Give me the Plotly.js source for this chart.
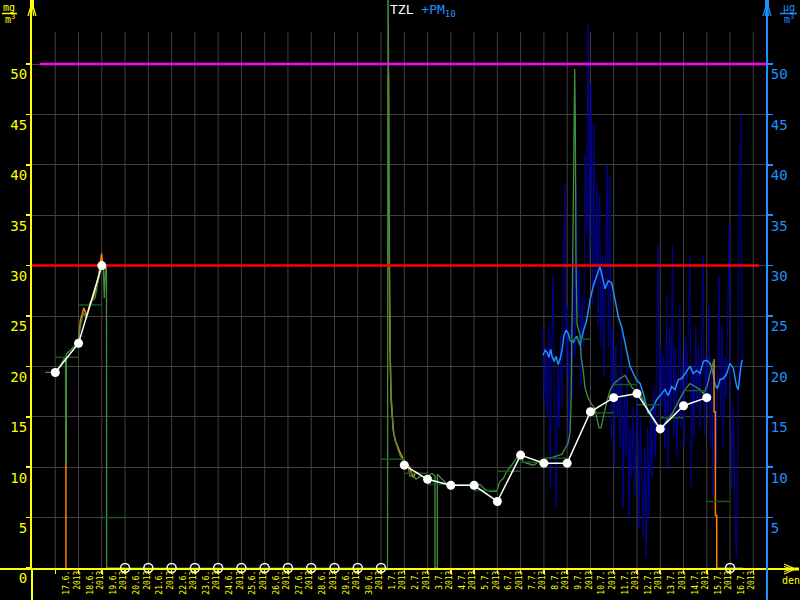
<!DOCTYPE html>
<html><head><meta charset="utf-8">
<script src="https://cdn.plot.ly/plotly-3.0.1.min.js"></script>
<style>html,body{margin:0;padding:0;background:#000;}#chart{width:800px;height:600px;}</style>
</head><body><div id="chart"></div>
<script>
// ---- DATA (time in hours since 17.6.2013 00:00) ----
const dayLabels = ['17.6.','18.6.','19.6.','20.6.','21.6.','22.6.','23.6.','24.6.','25.6.','26.6.','27.6.','28.6.','29.6.','30.6.',
  '1.7.','2.7.','3.7.','4.7.','5.7.','6.7.','7.7.','8.7.','9.7.','10.7.','11.7.','12.7.','13.7.','14.7.','15.7.','16.7.'];
const yearLabel = '2013';

// daily TZL average (white), null = missing day
const tzlDaily = [19.4, 22.3, 30.0, null, null, null, null, null, null, null, null, null, null, null, null,
  10.2, 8.8, 8.2, 8.2, 6.6, 11.2, 10.4, 10.4, 15.5, 16.9, 17.3, 13.8, 16.1, 16.9, null];

// daily mean of raw TZL (dark green steps)
const tzlDayMean = [20.9, 26.1, 5.0, 0, 0, 0, 0, 0, 0, 0, 0, 0, 0, 0,
  10.8, 9.4, 8.3, 8.2, 7.7, 9.6, 10.5, 10.9, 22.7, 15.4, 18.2, 16.2, 14.9, 17.6, 6.6, null];

// raw TZL (green)
const tzlRawHours = [-10.6,0.4,4.9,10.6,10.8,11.2,11.4,17.3,23.8,25.5,28.9,32.4,35.8,41.0,44.4,47.4,49.5,50.6,51.8,52.8,53.0,71.9,null,
  336.0,342.7,343.2,343.9,345.0,346.0,347.3,348.4,350.4,352.5,355.6,358.7,360.8,363.9,365.9,369.0,372.1,376.2,382.4,388.6,391.7,391.7,394.1,394.1,
  402.0,407.2,417.5,427.8,438.1,443.3,448.5,455.3,458.7,462.2,465.6,470.8,476.0,479.4,482.8,493.1,503.4,513.4,522.7,525.8,528.9,531.0,532.0,533.1,
  534.1,535.1,535.8,536.4,537.1,538.2,539.2,541.3,542.3,544.4,546.4,549.5,553.6,556.7,558.8,560.9,562.9,565.0,568.1,572.2,576.3,582.5,587.7,590.8,
  594.9,603.2,608.3,613.5,618.6,623.8,626.9,631.0,636.2,641.3,645.4,649.6,654.7,659.9,665.1,668.2,672.3,675.4,679.5,null,682.6,709.4];
const tzlRawValues = [19.4,19.4,20.0,21.0,10.5,10.5,21.2,21.8,22.4,23.8,25.3,24.8,26.3,26.8,28.4,30.0,30.1,26.8,30.0,30.0,0,0,null,
  0,0,60,44.2,26.1,18.2,15.0,13.8,12.7,12.1,11.2,10.7,10.3,10.0,9.1,9.2,8.8,9.1,9.0,9.4,9.1,0,0,9.3,
  8.5,8.3,8.2,8.2,8.3,7.8,7.6,7.6,8.6,8.9,9.6,10.2,10.9,11.4,10.5,10.2,10.8,11.0,11.3,11.8,12.4,13.4,16.2,24.9,
  37.0,44.3,49.5,44.6,30.4,24.2,23.8,23.1,21.0,19.7,17.9,16.9,16.2,15.8,14.8,13.9,13.9,14.8,16.2,17.6,18.3,18.8,19.1,18.6,
  17.9,17.3,16.2,15.2,14.4,13.9,14.0,14.7,15.3,16.3,17.0,17.7,18.3,18.0,17.7,17.3,18.0,19.3,20.7,null,0,0];

// second raw TZL channel (orange)
const tzlAltHours = [11.0,11.0,null,23.8,26.0,29.5,32.4,35.8,41.0,44.4,47.8,49.0,null,
  343.7,343.8,345.2,346.5,348.0,349.0,351.0,355.0,360.0,365.5,369.0,372.0,376.0,null,
  679.5,679.5,680.9,680.9,682.3,682.3];
const tzlAltValues = [21.0,0,null,22.4,24.6,25.8,25.0,26.0,27.4,28.8,31.2,30.0,null,
  49.0,39.4,22.0,16.5,14.6,13.4,12.6,11.6,10.6,10.0,9.0,9.5,9.3,null,
  20.7,15.5,15.5,5.2,5.2,0];

// PM10 hourly (light blue)
const pm10Hours = [503.1,505.2,507.2,509.3,510.9,512.4,514.5,516.6,518.6,520.7,522.8,524.8,526.9,529.0,531.0,534.4,537.9,541.3,544.7,548.2,
  551.6,555.0,558.5,561.9,564.5,567.1,570.4,573.9,577.4,580.8,584.3,587.7,591.1,592.8,596.3,599.8,603.2,606.6,611.7,616.6,
  620.4,625.5,628.9,632.3,635.8,639.2,642.7,646.2,649.6,653.0,654.7,658.1,661.6,665.1,668.5,672.0,675.4,678.2,680.5,682.9,
  685.7,689.1,692.6,696.0,699.4,702.9,704.5,706.3,708.0,709.1];
const pm10Values = [21.1,21.6,21.4,20.9,21.7,21.0,20.5,21.0,20.2,20.7,21.7,23.1,23.6,23.3,22.6,22.4,23.0,22.1,23.5,24.6,
  26.6,28.0,29.0,29.9,28.8,27.7,28.5,28.3,26.6,24.9,23.9,22.4,21.0,20.0,19.3,18.6,18.3,17.3,15.3,15.9,
  16.7,17.3,17.7,17.1,18.0,17.7,18.7,18.8,19.3,19.8,20.0,19.3,19.6,19.3,20.5,20.6,20.3,19.5,18.2,17.8,
  18.7,18.8,19.3,20.3,19.8,18.0,17.7,19.3,20.5,20.6];

// PM10 raw samples (dark blue), regular sampling
const pm10RawStart = 503.1;
const pm10RawStep = 1.5;
const pm10RawValues = [24,16,22,15,24,8,22,29,13,6, 20,14,23,16,30,38,19,26,12,24, 17,31,21,38,25,30,18,27,22,41,
  33,54,30,48,26,44,28,38,24,37, 22,31,19,28,40,22,39,13,24,10, 22,15,19,12,24,6,17,11,20,5,
  14,9,16,7,13,18,4,15,9,3, 12,1,14,5,16,9,18,11,20,32, 14,22,16,21,12,27,10,24,15,32,
  13,22,11,19,26,14,21,12,23,18, 26,31,8,20,13,24,16,22,14,25, 31,13,21,16,26,12,20,7,17,10,
  22,29,15,24,12,21,17,27,34,18, 8,16,5,1,12,37,45,20];

// limits
const tzlLimit = 30;
const pm10Limit = 50;
const leftTicks = [0,5,10,15,20,25,30,35,40,45,50];
const rightTicks = [5,10,15,20,25,30,35,40,45,50];

// ---- GEOMETRY / STYLE ----
const W = 800, H = 600, L = 32, R = 34, T = 0, B = 32;
const plotW = W - L - R, plotH = H - T - B;
const xRange = [-24, 733.1];
const yRange = [0, 56.35];
const gridTop = 53.17;
const tzlLimitSpan = [-24, 726];
const pm10LimitSpan = [-16, 733.1];
const YEL = '#ffff00', BLUE = '#1e90ff', GRID = '#404040';
const FONT = 'DejaVu Sans Mono, monospace';
const px = v => (v - L) / plotW;
const py = v => (H - B - v) / plotH;

// ---- TRACES ----
const dayX = dayLabels.map((_, i) => i * 24);
const rawX = pm10RawValues.map((_, i) => pm10RawStart + i * pm10RawStep);

const stepX = [], stepY = [];
tzlDayMean.forEach((v, i) => { if (v !== null) { stepX.push(i * 24, i * 24 + 24, null); stepY.push(v, v, null); } });

const missX = [], missY = [];
tzlDaily.forEach((v, i) => { if (v === null) { missX.push(i * 24); missY.push(0); } });

const traces = [
  {x: rawX, y: pm10RawValues, mode: 'lines', line: {color: '#00009a', width: 1}, hoverinfo: 'skip'},
  {x: pm10Hours, y: pm10Values, mode: 'lines', line: {color: BLUE, width: 1.5}, hoverinfo: 'skip'},
  {x: tzlAltHours, y: tzlAltValues, mode: 'lines', line: {color: '#ff8000', width: 1.5}, connectgaps: false, hoverinfo: 'skip'},
  {x: tzlRawHours, y: tzlRawValues, mode: 'lines', line: {color: '#3f8f3f', width: 1.3}, connectgaps: false, hoverinfo: 'skip'},
  {x: stepX, y: stepY, mode: 'lines', line: {color: '#145a14', width: 1.5}, connectgaps: false, hoverinfo: 'skip'},
  {x: tzlLimitSpan, y: [tzlLimit, tzlLimit], mode: 'lines', line: {color: '#ff0000', width: 2.5}, hoverinfo: 'skip'},
  {x: pm10LimitSpan, y: [pm10Limit, pm10Limit], mode: 'lines', line: {color: '#ff00ff', width: 2.5}, hoverinfo: 'skip'},
  {x: dayX, y: tzlDaily, mode: 'lines+markers', connectgaps: false, line: {color: '#ffffff', width: 1.5},
   marker: {color: '#ffffff', size: 9}, hoverinfo: 'skip'},
  {x: missX, y: missY, mode: 'markers', cliponaxis: false,
   marker: {symbol: 'circle-open', color: '#ffffff', size: 9, line: {width: 1.5}}, hoverinfo: 'skip'},
  {x: [], y: [], xaxis: 'x2', hoverinfo: 'skip'},
  {x: [], y: [], yaxis: 'y2', hoverinfo: 'skip'}
];

// ---- SHAPES ----
const shapes = [];
for (let k = 0; k <= dayLabels.length; k++) {
  shapes.push({type: 'line', xref: 'x', yref: 'y', x0: k * 24, x1: k * 24, y0: 0, y1: gridTop,
    line: {color: GRID, width: 1}, layer: 'below'});
}
function seg(x0, y0, x1, y1, color, w) {
  shapes.push({type: 'line', xref: 'paper', yref: 'paper', x0: px(x0), y0: py(y0), x1: px(x1), y1: py(y1),
    line: {color: color, width: w}});
}
// axis extensions
seg(32, 568, 32, 600, YEL, 2);
seg(0, 569, 32, 569, YEL, 2);
seg(766, 569, 798, 569, YEL, 2);
seg(767, 568, 767, 600, BLUE, 2);
// arrows
function arrowUp(x, c) {
  seg(x, 0, x, 9, c, 4);
  seg(x - 1, 6, x - 4, 16, c, 1.2); seg(x - 0.5, 8, x - 1.7, 16, c, 1.2);
  seg(x + 1, 6, x + 4, 16, c, 1.2); seg(x + 0.5, 8, x + 1.7, 16, c, 1.2);
}
arrowUp(32, YEL);
arrowUp(767, BLUE);
seg(790, 569, 799, 569, YEL, 3);
seg(793, 568, 784, 564, YEL, 1.2); seg(791, 568.5, 784, 566.5, YEL, 1.2);
seg(793, 570, 784, 574, YEL, 1.2); seg(791, 569.5, 784, 571.5, YEL, 1.2);
// unit fraction bars
seg(2, 13.5, 17, 13.5, YEL, 1.5);
seg(780, 13.5, 797, 13.5, BLUE, 1.5);

// ---- ANNOTATIONS ----
function note(text, x, y, color, size, xanchor) {
  return {text: text, xref: 'paper', yref: 'paper', x: px(x), y: py(y), xanchor: xanchor || 'center', yanchor: 'middle',
    showarrow: false, font: {family: FONT, size: size, color: color}};
}
const annotations = [
  {text: '<span style="color:#ffffff">TZL</span> <span style="color:' + BLUE + '">+PM<sub>10</sub></span>',
   xref: 'paper', yref: 'paper', x: px(388), y: 1, xanchor: 'left', yanchor: 'top', showarrow: false,
   font: {family: FONT, size: 13, color: '#ffffff'}},
  note('mg', 9, 8, YEL, 10),
  note('m<sup>3</sup>', 10, 19, YEL, 10),
  note('µg', 789, 8, BLUE, 10),
  note('m<sup>3</sup>', 789, 19, BLUE, 10),
  note('den', 791, 580, YEL, 10)
];

const layout = {
  width: W, height: H,
  margin: {l: L, r: R, t: T, b: B, pad: 0},
  paper_bgcolor: '#000000', plot_bgcolor: '#000000',
  showlegend: false,
  xaxis: {range: xRange, tickvals: dayLabels.map((_, i) => i * 24).concat([dayLabels.length * 24]),
    showticklabels: false, ticks: 'outside', ticklen: 4, tickwidth: 1.5, tickcolor: YEL,
    showline: true, linecolor: YEL, linewidth: 2, showgrid: false, zeroline: false, layer: 'below traces', fixedrange: true},
  xaxis2: {overlaying: 'x', anchor: 'y', side: 'bottom', range: xRange,
    tickvals: dayLabels.map((_, i) => i * 24 + 12),
    ticktext: dayLabels.map(d => d + '<br>' + yearLabel),
    tickangle: -90, ticklabelshift: 5, tickfont: {family: FONT, size: 8, color: YEL}, ticks: '',
    showline: false, showgrid: false, zeroline: false, fixedrange: true},
  yaxis: {range: yRange, tickvals: leftTicks, tickfont: {family: FONT, size: 14, color: YEL},
    ticks: 'outside', ticklen: 4, tickwidth: 1.5, tickcolor: YEL, ticklabelposition: 'outside bottom',
    showline: true, linecolor: YEL, linewidth: 2, gridcolor: GRID, gridwidth: 1, zeroline: false, fixedrange: true},
  yaxis2: {overlaying: 'y', side: 'right', range: yRange, tickvals: rightTicks,
    tickfont: {family: FONT, size: 14, color: BLUE}, ticks: 'outside', ticklen: 5, tickwidth: 1.5, tickcolor: BLUE,
    ticklabelposition: 'outside bottom', showline: true, linecolor: BLUE, linewidth: 2,
    showgrid: false, zeroline: false, fixedrange: true},
  shapes: shapes,
  annotations: annotations
};

Plotly.newPlot('chart', traces, layout, {staticPlot: true, displayModeBar: false});
</script>
</body></html>
